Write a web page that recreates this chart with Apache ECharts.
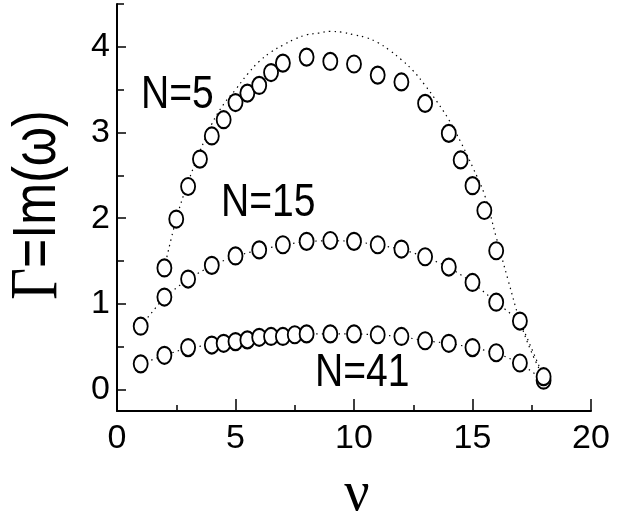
<!DOCTYPE html>
<html>
<head>
<meta charset="utf-8">
<script src="https://cdn.jsdelivr.net/npm/echarts@6/dist/echarts.min.js"></script>
<style>
  html, body { margin: 0; padding: 0; background: #fff; }
  #chart { width: 626px; height: 516px; }
</style>
</head>
<body>
<div id="chart"></div>
<script>
// Growth rate Γ = Im(ω) against mode number ν for chains of N = 5, 15 and 41

// N = 5: computed points and the continuous curve drawn through them
const nuN5 = [2, 2.5, 3, 3.5, 4, 4.5, 5, 5.5, 6, 6.5, 7, 8, 9, 10, 11, 12, 13, 14, 14.5, 15, 15.5, 16];
const gammaN5 = [1.42, 1.99, 2.37, 2.69, 2.96, 3.15, 3.35, 3.46, 3.55, 3.70, 3.81, 3.88, 3.83, 3.80, 3.67, 3.59, 3.34, 2.99, 2.68, 2.38, 2.09, 1.62];

const nuCurve = [2, 2.5, 3, 3.5, 4, 4.5, 5, 5.5, 6, 6.5, 7, 7.5, 8, 8.5, 9, 9.5, 10, 10.5, 11, 11.5, 12, 12.5, 13, 13.5, 14, 14.5, 15, 15.5, 16, 16.5, 17, 17.5, 18];
const gammaCurve = [1.42, 1.99, 2.42, 2.78, 3.10, 3.33, 3.50, 3.68, 3.83, 3.94, 4.02, 4.09, 4.14, 4.16, 4.18, 4.17, 4.14, 4.11, 4.05, 3.96, 3.85, 3.72, 3.55, 3.36, 3.15, 2.89, 2.60, 2.28, 1.78, 1.28, 0.80, 0.43, 0.14];

// N = 15
const nuN15 = [1, 2, 3, 4, 5, 6, 7, 8, 9, 10, 11, 12, 13, 14, 15, 16, 17, 18];
const gammaN15 = [0.74, 1.08, 1.29, 1.45, 1.56, 1.63, 1.69, 1.73, 1.74, 1.73, 1.69, 1.64, 1.55, 1.43, 1.25, 1.02, 0.80, 0.15];

// N = 41
const nuN41 = [1, 2, 3, 4, 4.5, 5, 5.5, 6, 6.5, 7, 7.5, 8, 9, 10, 11, 12, 13, 14, 15, 16, 17, 18];
const gammaN41 = [0.30, 0.40, 0.49, 0.52, 0.54, 0.56, 0.58, 0.61, 0.62, 0.62, 0.64, 0.65, 0.65, 0.65, 0.64, 0.62, 0.57, 0.54, 0.49, 0.43, 0.31, 0.11];

// Axis ticks
const xTicks = [0, 5, 10, 15, 20];
const yTicks = [0, 1, 2, 3, 4];
const yMinorTicks = [0.5, 1.5, 2.5, 3.5, 4.5];

const curveLabels = ['N=5', 'N=15', 'N=41'];

const pairs = (xs, ys) => xs.map((x, i) => [x, ys[i]]);

const SANS = '"Liberation Sans", Arial, Helvetica, sans-serif';
const SERIF = '"Liberation Serif", "Times New Roman", serif';

const circleStyle = {
  symbol: 'emptyCircle',
  symbolSize: [14, 17],
  itemStyle: { color: '#000', borderColor: '#000', borderWidth: 2, opacity: 1 }
};
const dotLine = { color: '#000', width: 1.2, type: [1.4, 4.2] };

const chart = echarts.init(document.getElementById('chart'), null, { renderer: 'canvas' });

chart.setOption({
  animation: false,
  backgroundColor: '#fff',
  grid: { left: 117, right: 35, top: 4, bottom: 105, containLabel: false },
  xAxis: {
    type: 'value',
    min: 0,
    max: 20,
    interval: 5,
    axisLine: { show: true, onZero: false, lineStyle: { color: '#000', width: 2 } },
    axisTick: { show: true, inside: true, length: 12, lineStyle: { color: '#000', width: 1.5 } },
    minorTick: { show: true, splitNumber: 2, length: 6, lineStyle: { color: '#000', width: 1.5 } },
    axisLabel: {
      color: '#000', fontSize: 34, fontFamily: SANS, margin: 11,
      customValues: xTicks
    },
    splitLine: { show: false }
  },
  yAxis: [
    {
      type: 'value',
      min: -0.25,
      max: 4.5,
      axisLine: { show: true, onZero: false, lineStyle: { color: '#000', width: 2 } },
      axisTick: { show: true, inside: true, length: 9, customValues: yTicks, lineStyle: { color: '#000', width: 1.5 } },
      axisLabel: {
        color: '#000', fontSize: 34, fontFamily: SANS, margin: 7,
        customValues: yTicks
      },
      splitLine: { show: false }
    },
    {
      type: 'value',
      position: 'left',
      offset: 0,
      min: -0.25,
      max: 4.5,
      axisLine: { show: false },
      axisTick: { show: true, inside: true, length: 7, customValues: yMinorTicks, lineStyle: { color: '#000', width: 1.5 } },
      axisLabel: { show: false },
      splitLine: { show: false }
    }
  ],
  series: [
    {
      name: 'N=5 curve',
      type: 'line',
      data: pairs(nuCurve, gammaCurve),
      smooth: 0.4,
      showSymbol: false,
      symbol: 'none',
      lineStyle: dotLine,
      z: 1
    },
    {
      name: 'N=41',
      type: 'line',
      data: pairs(nuN41, gammaN41),
      lineStyle: dotLine,
      ...circleStyle,
      z: 2
    },
    {
      name: 'N=15',
      type: 'line',
      data: pairs(nuN15, gammaN15),
      lineStyle: dotLine,
      ...circleStyle,
      z: 3
    },
    {
      name: 'N=5',
      type: 'scatter',
      data: pairs(nuN5, gammaN5),
      ...circleStyle,
      z: 4
    }
  ],
  graphic: [
    {
      type: 'text', x: 141, y: 95, scaleX: 0.85,
      style: { text: curveLabels[0], x: 0, y: 0, font: '46px ' + SANS, fill: '#000', textAlign: 'left', textVerticalAlign: 'middle' }
    },
    {
      type: 'text', x: 221, y: 203, scaleX: 0.85,
      style: { text: curveLabels[1], x: 0, y: 0, font: '46px ' + SANS, fill: '#000', textAlign: 'left', textVerticalAlign: 'middle' }
    },
    {
      type: 'text', x: 315, y: 373, scaleX: 0.85,
      style: { text: curveLabels[2], x: 0, y: 0, font: '46px ' + SANS, fill: '#000', textAlign: 'left', textVerticalAlign: 'middle' }
    },
    {
      // vertical axis title
      type: 'text', x: 38, y: 205, rotation: Math.PI / 2, scaleX: 0.81,
      style: {
        text: '{g|Γ}{s|=Im(ω)}',
        x: 0, y: 0,
        textAlign: 'center', textVerticalAlign: 'middle',
        rich: {
          g: { fontFamily: SERIF, fontSize: 68, fill: '#000', color: '#000' },
          s: { fontFamily: SANS, fontSize: 62, fill: '#000', color: '#000' }
        }
      }
    },
    {
      // horizontal axis title
      type: 'text', x: 357, y: 495,
      style: { text: 'ν', x: 0, y: 0, font: '56px ' + SERIF, fill: '#000', textAlign: 'center', textVerticalAlign: 'middle' }
    }
  ]
});
</script>
</body>
</html>
